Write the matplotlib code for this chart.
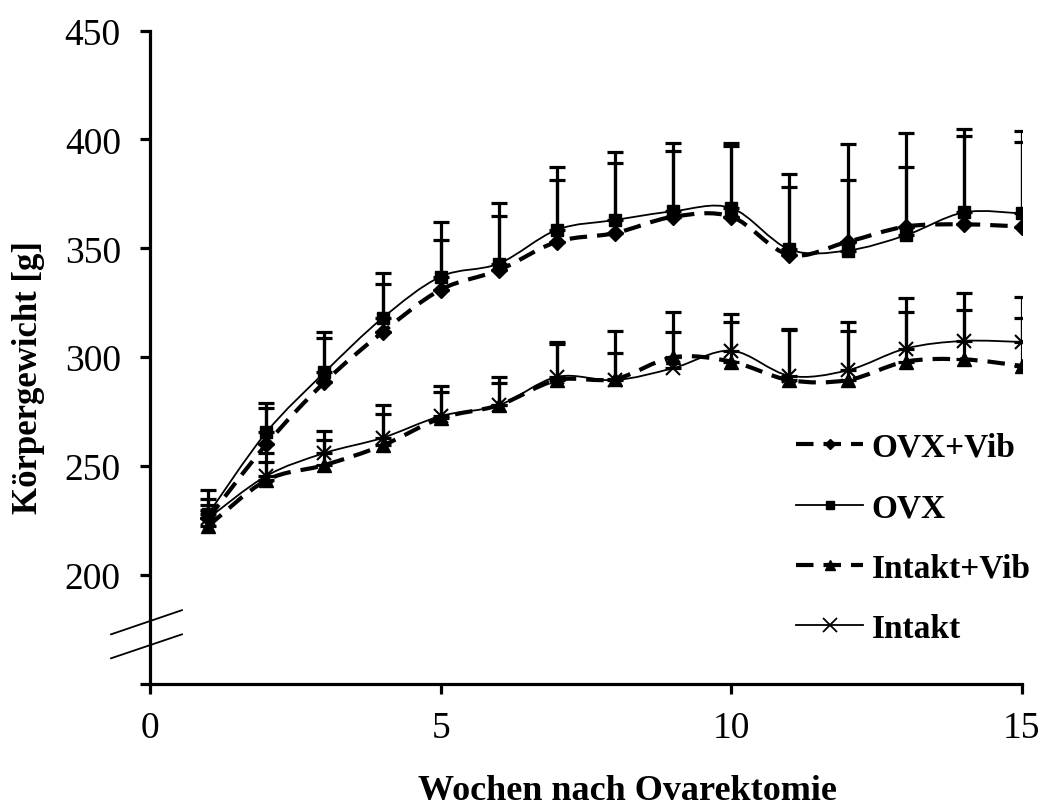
import numpy as np
import matplotlib
matplotlib.use("Agg")
import matplotlib.pyplot as plt
from matplotlib.path import Path
from matplotlib.patches import PathPatch
from matplotlib.lines import Line2D

weeks = [1, 2, 3, 4, 5, 6, 7, 8, 9, 10, 11, 12, 13, 14, 15]

ovx_vib_mean = [226, 260, 288.5, 311.5, 331, 340, 353, 357, 364.5, 364.5, 347, 353, 360, 361, 360]
ovx_vib_sd = [9, 16.5, 20.5, 22, 23, 25, 28.5, 32, 30, 32.5, 31, 28.5, 27.5, 40.5, 39]

ovx_mean = [228, 265.5, 293, 318, 337, 343, 358.5, 363, 367, 368.5, 349.5, 349, 356, 366.5, 366]
ovx_sd = [11, 13.5, 18.5, 20.5, 25, 28, 29, 31, 31.5, 30, 34.5, 49, 47, 38.5, 38]

intakt_vib_mean = [222.5, 243.5, 250.5, 259.5, 272, 278, 289.5, 290, 300, 298, 289.5, 289.5, 298, 299, 296]
intakt_vib_sd = [7.5, 8.5, 11.5, 14.5, 12, 10, 16.5, 12, 21, 18, 23, 22.5, 23, 22.5, 22]

intakt_mean = [226, 245.5, 256, 263, 273, 278, 291, 289.5, 295, 303, 291.5, 294, 304, 307.5, 307]
intakt_sd = [6, 10.5, 10, 15, 14, 13, 16, 22.5, 16.5, 17, 21.5, 22, 23, 22, 20.5]

labels = ["OVX+Vib", "OVX", "Intakt+Vib", "Intakt"]
x_ticks = [0, 5, 10, 15]
y_ticks = [150, 200, 250, 300, 350, 400, 450]
y_ticklabels = ["", "200", "250", "300", "350", "400", "450"]
x_label = "Wochen nach Ovarektomie"
y_label = "Körpergewicht [g]"

plt.rcParams['font.family'] = ['Liberation Serif', 'DejaVu Serif']

fig = plt.figure(figsize=(10.45, 8.12), dpi=100)
ax = fig.add_axes([150/1045, 1-685/812, 872/1045, (685-31.5)/812])


def smooth_path(xs, ys):
    pts = np.column_stack([xs, ys]).astype(float)
    n = len(pts)
    verts = [pts[0]]
    codes = [Path.MOVETO]
    for i in range(n - 1):
        p0 = pts[i - 1] if i > 0 else pts[i]
        p1 = pts[i]
        p2 = pts[i + 1]
        p3 = pts[i + 2] if i + 2 < n else pts[i + 1]
        c1 = p1 + (p2 - p0) / 6.0
        c2 = p2 - (p3 - p1) / 6.0
        verts += [c1, c2, p2]
        codes += [Path.CURVE4] * 3
    return Path(np.array(verts), codes)


series = [
    (ovx_vib_mean, ovx_vib_sd, 'D', 8, 'dashed'),
    (ovx_mean, ovx_sd, 's', 8, 'solid'),
    (intakt_vib_mean, intakt_vib_sd, '^', 9.5, 'dashed'),
    (intakt_mean, intakt_sd, 'x', 10, 'solid'),
]

dash = (0, (4.2, 2.4))
handles = []
for (m, sd, mk, ms, style), lab in zip(series, labels):
    ax.errorbar(weeks, m, yerr=[np.zeros(len(sd)), sd], fmt='none',
                ecolor='black', elinewidth=2.3, capsize=5.5, capthick=2.3, zorder=2)
    if style == 'dashed':
        lw = 3.0
        ls = dash
    else:
        lw = 1.3
        ls = 'solid'
    patch = PathPatch(smooth_path(weeks, m), fill=False, edgecolor='black',
                      linewidth=lw, linestyle=ls, zorder=3, capstyle='butt')
    ax.add_patch(patch)
    if mk == 'x':
        ax.plot(weeks, m, linestyle='none', marker=mk, markersize=ms,
                markeredgewidth=1.5, color='black', zorder=4)
    else:
        ax.plot(weeks, m, linestyle='none', marker=mk, markersize=ms,
                color='black', zorder=4)
    hms = ms * 0.7 if mk != 'x' else ms
    handles.append(Line2D([], [], color='black', linewidth=lw, linestyle=ls,
                          marker=mk, markersize=hms,
                          markeredgewidth=1.3 if mk == 'x' else 1.0))

ax.set_xlim(0, 15)
ax.set_ylim(150, 450)
ax.set_xticks(x_ticks)
ax.set_yticks(y_ticks)
ax.set_yticklabels(y_ticklabels)

for s in ['top', 'right']:
    ax.spines[s].set_visible(False)
for s in ['left', 'bottom']:
    ax.spines[s].set_linewidth(2.3)
ax.spines['left'].set_bounds(150, 450)

ax.tick_params(axis='both', direction='out', length=7, width=2.3,
               labelsize=27)
ax.tick_params(axis='y', pad=14)
ax.tick_params(axis='x', pad=12)

ax.set_ylabel(y_label, fontsize=25, fontweight='bold')
ax.yaxis.set_label_coords(-0.12, 0.47)
fig.text(627/1045, 1-792/812, x_label, fontsize=26, fontweight='bold',
         ha='center', va='center')

# axis break marks
for y0, y1 in [(172.8, 183.9), (161.8, 172.8)]:
    ax.plot([-0.67, 0.55], [y0, y1], color='black', linewidth=1.3,
            clip_on=False, zorder=5)

leg = ax.legend(handles, labels, loc='lower right', bbox_to_anchor=(1.025, 0.041),
                frameon=False, prop={'size': 24, 'weight': 'bold'},
                handlelength=2.0, handletextpad=0.25, labelspacing=0.88,
                borderaxespad=0.0)

fig.savefig("out.png", dpi=100)
